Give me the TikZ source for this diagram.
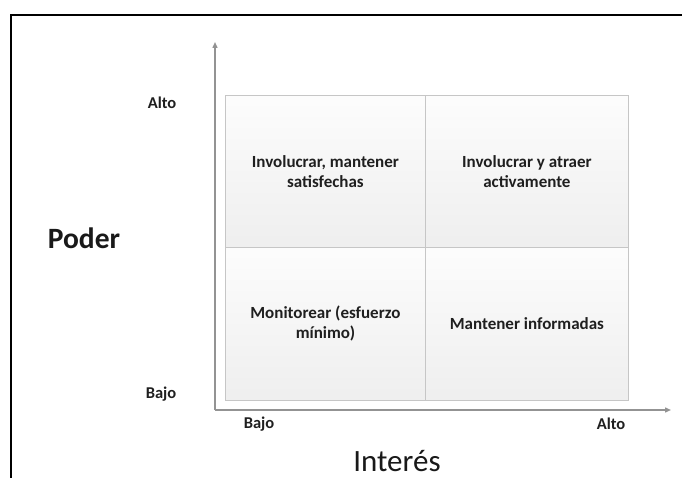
\documentclass[tikz,border=0pt]{standalone}
\usepackage{fontspec}
\setmainfont{Carlito}
\usetikzlibrary{arrows.meta}
\begin{document}
\begin{tikzpicture}[x=1pt,y=-1pt,
  cellbox/.style={draw=gray!45, line width=0.8pt, top color=gray!2, bottom color=gray!13,
    minimum width=#1, minimum height=152pt, inner sep=0pt, anchor=north west},
  celltext/.style={align=center, text=black!88, font=\fontsize{17}{20}\selectfont\bfseries},
  axislabel/.style={text=black!88, font=\fontsize{16.5}{18}\selectfont\bfseries, inner sep=0pt},
  axisline/.style={draw=gray!85, line width=1.4pt, -{Triangle[length=6pt,width=5pt]}}
]
\useasboundingbox (0,0) rectangle (682,478);
\fill[white] (0,0) rectangle (682,478);
% frame
\coordinate (fr1) at (682,15);
\coordinate (fr2) at (10.5,15);
\coordinate (fr3) at (10.5,478);
\draw[line width=2pt, black] (fr1) -- (fr2) -- (fr3);
% cells
\node[cellbox=200pt] (c11) at (225,95) {};
\node[cellbox=203pt] (c12) at (425,95) {};
\node[cellbox=200pt, minimum height=153pt] (c21) at (225,247) {};
\node[cellbox=203pt, minimum height=153pt] (c22) at (425,247) {};
\node[celltext] (t11) at (c11.center) {Involucrar, mantener\\satisfechas};
\node[celltext] (t12) at (c12.center) {Involucrar y atraer\\activamente};
\node[celltext] (t21) at (c21.center) {Monitorear (esfuerzo\\mínimo)};
\node[celltext] (t22) at (c22.center) {Mantener informadas};
% axes
\coordinate (orig) at (215,410);
\coordinate (ytip) at (215,42);
\coordinate (xtip) at (671,410);
\draw[axisline] (orig) -- (ytip);
\draw[axisline] (orig) -- (xtip);
% labels
\node[axislabel] (yalto) at (162,103) {Alto};
\node[axislabel] (ybajo) at (161,394) {Bajo};
\node[axislabel] (xbajo) at (259,424) {Bajo};
\node[axislabel] (xalto) at (611,424) {Alto};
\node[text=black!90, font=\fontsize{29.5}{31}\selectfont\bfseries, inner sep=0pt] (poder) at (84,238) {Poder};
\node[text=black!90, font=\fontsize{31}{33}\selectfont, inner sep=0pt] (interes) at (397,461) {Interés};
\end{tikzpicture}
\end{document}
